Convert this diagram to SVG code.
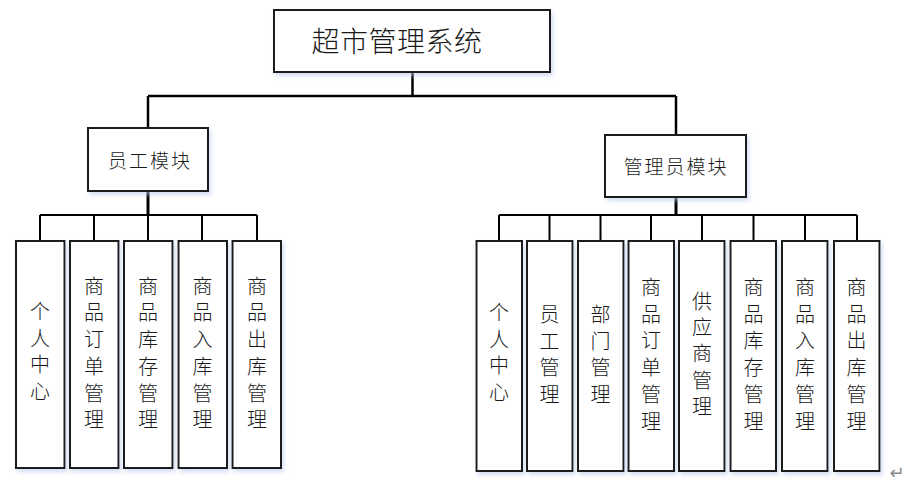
<svg xmlns="http://www.w3.org/2000/svg" width="923" height="486" viewBox="0 0 923 486">
<defs>
<filter id="sh" x="-20%" y="-20%" width="140%" height="140%">
<feDropShadow dx="2" dy="3" stdDeviation="2" flood-color="#b8c8e8" flood-opacity="0.6"/>
</filter>
<style>
.box{fill:#ffffff;stroke:#1a1a1a;stroke-width:2;filter:url(#sh)}
.ln{fill:none;stroke:#000000;stroke-width:2}
.t{font-family:"Noto Sans CJK SC","Noto Sans CJK TC",sans-serif;font-weight:300;fill:#1a1a1a;font-size:20px;text-anchor:middle}
.title{font-size:28px;letter-spacing:0.5px}
.mod{font-size:19px;letter-spacing:2px}
</style>
</defs>
<rect width="923" height="486" fill="#ffffff"/>
<g id="connectors">
<path class="ln" d="M412.5,72 V96 M148,96 H676 M148,96 V128 M676,96 V135" style="stroke-width:2.5"/>
<path class="ln" d="M40,215 H257 M40,215 V241 M94,215 V241 M148,215 V241 M202,215 V241 M257,215 V241"/>
<path class="ln" d="M499,215 H857 M499,215 V241 M549.5,215 V241 M600.5,215 V241 M651,215 V241 M702,215 V241 M753.5,215 V241 M805,215 V241 M857,215 V241"/>
<path class="ln" d="M148,191 V215 M676,197 V215" style="stroke-width:3"/>
</g>
<g id="root"><rect class="box" x="274" y="10" width="276" height="62"/><text class="t title" x="397" y="51.5">超市管理系统</text></g>
<g id="staff"><rect class="box" x="88" y="128" width="120" height="63"/><text class="t mod" x="150" y="167.5">员工模块</text></g>
<g id="admin"><rect class="box" x="605" y="135" width="141" height="62"/><text class="t mod" x="676" y="173.5">管理员模块</text></g>

<g id="s1"><rect class="box" x="16" y="241" width="48.5" height="227"/><text class="t"><tspan x="40" y="319">个</tspan><tspan x="40" dy="26.7">人</tspan><tspan x="40" dy="26.7">中</tspan><tspan x="40" dy="26.7">心</tspan></text></g>
<g id="s2"><rect class="box" x="70" y="241" width="48.5" height="227"/><text class="t"><tspan x="94" y="293.7">商</tspan><tspan x="94" dy="26.7">品</tspan><tspan x="94" dy="26.7">订</tspan><tspan x="94" dy="26.7">单</tspan><tspan x="94" dy="26.7">管</tspan><tspan x="94" dy="26.7">理</tspan></text></g>
<g id="s3"><rect class="box" x="124" y="241" width="48.5" height="227"/><text class="t"><tspan x="148" y="293.7">商</tspan><tspan x="148" dy="26.7">品</tspan><tspan x="148" dy="26.7">库</tspan><tspan x="148" dy="26.7">存</tspan><tspan x="148" dy="26.7">管</tspan><tspan x="148" dy="26.7">理</tspan></text></g>
<g id="s4"><rect class="box" x="178.5" y="241" width="48.5" height="227"/><text class="t"><tspan x="202.5" y="293.7">商</tspan><tspan x="202.5" dy="26.7">品</tspan><tspan x="202.5" dy="26.7">入</tspan><tspan x="202.5" dy="26.7">库</tspan><tspan x="202.5" dy="26.7">管</tspan><tspan x="202.5" dy="26.7">理</tspan></text></g>
<g id="s5"><rect class="box" x="232.5" y="241" width="48.5" height="227"/><text class="t"><tspan x="257" y="293.7">商</tspan><tspan x="257" dy="26.7">品</tspan><tspan x="257" dy="26.7">出</tspan><tspan x="257" dy="26.7">库</tspan><tspan x="257" dy="26.7">管</tspan><tspan x="257" dy="26.7">理</tspan></text></g>

<g id="a1"><rect class="box" x="476.5" y="241" width="45.5" height="230"/><text class="t"><tspan x="499" y="320">个</tspan><tspan x="499" dy="26.7">人</tspan><tspan x="499" dy="26.7">中</tspan><tspan x="499" dy="26.7">心</tspan></text></g>
<g id="a2"><rect class="box" x="527" y="241" width="45.5" height="230"/><text class="t"><tspan x="549.5" y="322">员</tspan><tspan x="549.5" dy="26.7">工</tspan><tspan x="549.5" dy="26.7">管</tspan><tspan x="549.5" dy="26.7">理</tspan></text></g>
<g id="a3"><rect class="box" x="578" y="241" width="45.5" height="230"/><text class="t"><tspan x="600.5" y="322">部</tspan><tspan x="600.5" dy="26.7">门</tspan><tspan x="600.5" dy="26.7">管</tspan><tspan x="600.5" dy="26.7">理</tspan></text></g>
<g id="a4"><rect class="box" x="628.5" y="241" width="45.5" height="230"/><text class="t"><tspan x="651" y="295">商</tspan><tspan x="651" dy="26.7">品</tspan><tspan x="651" dy="26.7">订</tspan><tspan x="651" dy="26.7">单</tspan><tspan x="651" dy="26.7">管</tspan><tspan x="651" dy="26.7">理</tspan></text></g>
<g id="a5"><rect class="box" x="679" y="241" width="45.5" height="230"/><text class="t"><tspan x="702" y="308.7">供</tspan><tspan x="702" dy="26.3">应</tspan><tspan x="702" dy="26.3">商</tspan><tspan x="702" dy="26.3">管</tspan><tspan x="702" dy="26.3">理</tspan></text></g>
<g id="a6"><rect class="box" x="730.5" y="241" width="45.5" height="230"/><text class="t"><tspan x="753.5" y="295">商</tspan><tspan x="753.5" dy="26.7">品</tspan><tspan x="753.5" dy="26.7">库</tspan><tspan x="753.5" dy="26.7">存</tspan><tspan x="753.5" dy="26.7">管</tspan><tspan x="753.5" dy="26.7">理</tspan></text></g>
<g id="a7"><rect class="box" x="782" y="241" width="45.5" height="230"/><text class="t"><tspan x="805" y="295">商</tspan><tspan x="805" dy="26.7">品</tspan><tspan x="805" dy="26.7">入</tspan><tspan x="805" dy="26.7">库</tspan><tspan x="805" dy="26.7">管</tspan><tspan x="805" dy="26.7">理</tspan></text></g>
<g id="a8"><rect class="box" x="834" y="241" width="45.5" height="230"/><text class="t"><tspan x="856.5" y="295">商</tspan><tspan x="856.5" dy="26.7">品</tspan><tspan x="856.5" dy="26.7">出</tspan><tspan x="856.5" dy="26.7">库</tspan><tspan x="856.5" dy="26.7">管</tspan><tspan x="856.5" dy="26.7">理</tspan></text></g>
<text x="897" y="479" style="font-family:'DejaVu Sans',sans-serif;font-size:18px;fill:#8a8a8a;text-anchor:middle">↵</text>
</svg>
